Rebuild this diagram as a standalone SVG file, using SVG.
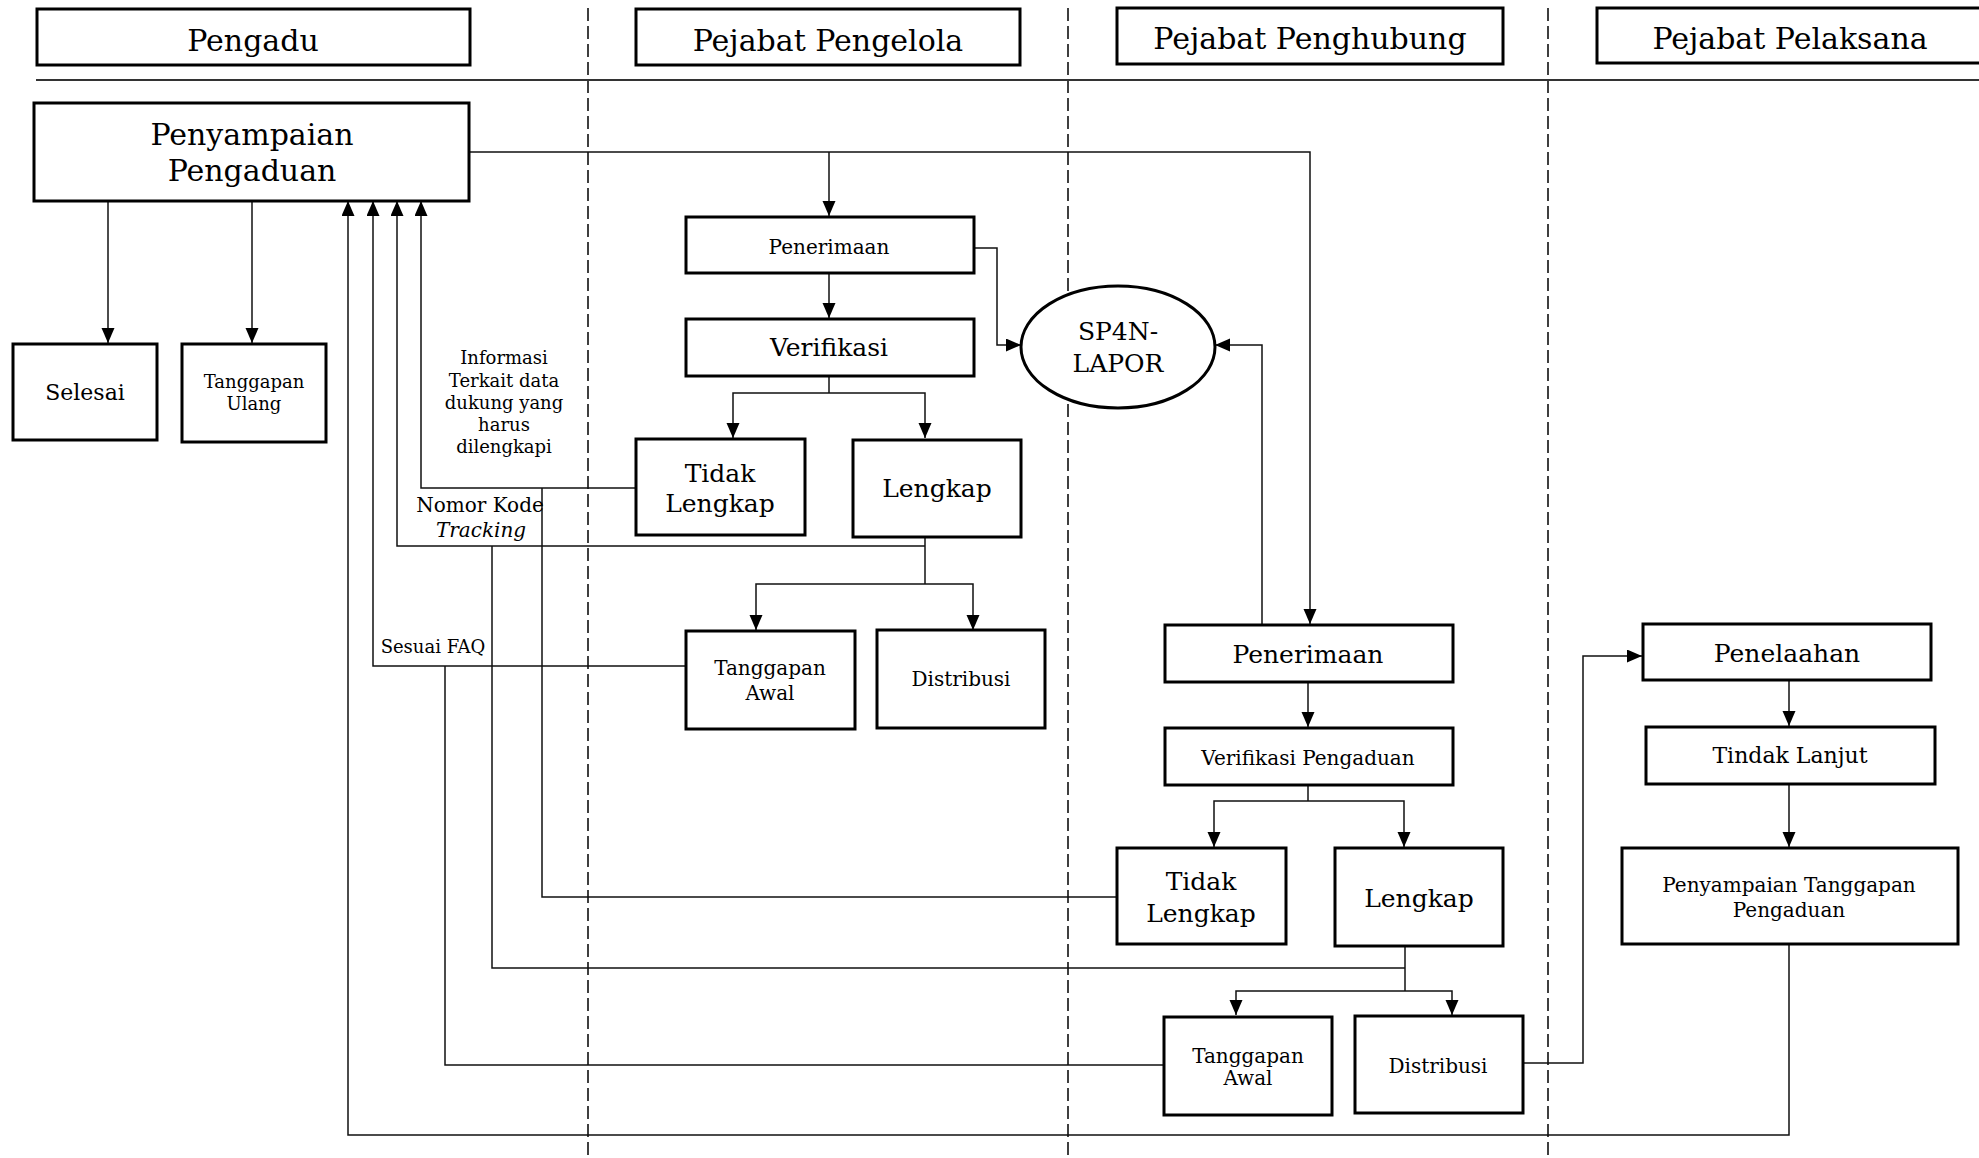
<svg xmlns="http://www.w3.org/2000/svg" width="1979" height="1158" viewBox="0 0 1979 1158">
<style>
  .box { fill: #fff; stroke: #000; stroke-width: 3; }
  .hdr { fill: #fff; stroke: #000; stroke-width: 3; }
  .lane { stroke: #000; stroke-width: 1.5; stroke-dasharray: 13 5; fill: none; }
  .sep { stroke: #333; stroke-width: 2; fill: none; }
  .c { stroke: #111; stroke-width: 1.5; fill: none; }
  .a { marker-end: url(#arr); }
  text { font-family: "DejaVu Serif", "Liberation Serif", serif; fill: #000; text-anchor: middle; }
  .t30 { font-size: 30px; }
  .t25 { font-size: 25px; }
  .t22 { font-size: 22px; }
  .t20 { font-size: 20px; }
  .t18 { font-size: 18px; }
</style>
<defs>
  <marker id="arr" markerUnits="userSpaceOnUse" markerWidth="16" markerHeight="14" refX="15" refY="6.5" orient="auto">
    <path d="M0,0 L15,6.5 L0,13 z" fill="#000"/>
  </marker>
</defs>
<rect width="1979" height="1158" fill="#fff"/>

<g id="lanes">
  <line class="lane" x1="588" y1="8" x2="588" y2="1158"/>
  <line class="lane" x1="1068" y1="8" x2="1068" y2="1158"/>
  <line class="lane" x1="1548" y1="8" x2="1548" y2="1158"/>
  <line class="sep" x1="36" y1="80" x2="1979" y2="80"/>
</g>

<g id="headers">
  <g id="h-pengadu"><rect class="hdr" x="37" y="9" width="433" height="56"/><text class="t30" x="253" y="51">Pengadu</text></g>
  <g id="h-pengelola"><rect class="hdr" x="636" y="9" width="384" height="56"/><text class="t30" x="828" y="51">Pejabat Pengelola</text></g>
  <g id="h-penghubung"><rect class="hdr" x="1117" y="8" width="386" height="56"/><text class="t30" x="1310" y="49">Pejabat Penghubung</text></g>
  <g id="h-pelaksana"><rect class="hdr" x="1597" y="8" width="390" height="55"/><text class="t30" x="1790" y="49">Pejabat Pelaksana</text></g>
</g>

<g id="connectors">
  <polyline class="c a" points="108,201 108,343"/>
  <polyline class="c a" points="252,201 252,343"/>
  <polyline class="c a" points="469,152 1310,152 1310,624"/>
  <polyline class="c a" points="829,152 829,216"/>
  <polyline class="c a" points="829,273 829,318"/>
  <polyline class="c a" points="973,248 997,248 997,345 1021,345"/>
  <polyline class="c" points="829,376 829,393"/>
  <polyline class="c a" points="829,393 733,393 733,438"/>
  <polyline class="c a" points="829,393 925,393 925,438"/>
  <polyline class="c a" points="636,488 421,488 421,201"/>
  <polyline class="c" points="1117,897 542,897 542,488"/>
  <polyline class="c" points="925,538 925,584"/>
  <polyline class="c a" points="925,546 397,546 397,201"/>
  <polyline class="c a" points="925,584 756,584 756,630"/>
  <polyline class="c a" points="925,584 973,584 973,630"/>
  <polyline class="c a" points="686,666 373,666 373,201"/>
  <polyline class="c" points="445,666 445,1065 1164,1065"/>
  <polyline class="c a" points="1262,624 1262,345 1215,345"/>
  <polyline class="c a" points="1308,682 1308,727"/>
  <polyline class="c" points="1308,785 1308,801"/>
  <polyline class="c a" points="1308,801 1214,801 1214,847"/>
  <polyline class="c a" points="1308,801 1404,801 1404,847"/>
  <polyline class="c" points="1405,946 1405,991"/>
  <polyline class="c" points="1405,968 492,968 492,546"/>
  <polyline class="c a" points="1405,991 1236,991 1236,1015"/>
  <polyline class="c a" points="1405,991 1452,991 1452,1015"/>
  <polyline class="c a" points="1523,1063 1583,1063 1583,656 1642,656"/>
  <polyline class="c a" points="1789,680 1789,726"/>
  <polyline class="c a" points="1789,784 1789,847"/>
  <polyline class="c a" points="1789,944 1789,1135 348,1135 348,201"/>
</g>

<g id="labels">
  <text class="t18" x="504" y="364">Informasi</text>
  <text class="t18" x="504" y="387">Terkait data</text>
  <text class="t18" x="504" y="409">dukung yang</text>
  <text class="t18" x="504" y="431">harus</text>
  <text class="t18" x="504" y="453">dilengkapi</text>
  <text class="t20" x="480" y="512">Nomor Kode</text>
  <text class="t20" x="481" y="537" font-style="italic">Tracking</text>
  <text class="t18" x="433" y="653">Sesuai FAQ</text>
</g>

<g id="penyampaian-pengaduan"><rect class="box" x="34" y="103" width="435" height="98"/><text class="t30" x="252" y="145">Penyampaian</text><text class="t30" x="252" y="181">Pengaduan</text></g>
<g id="selesai"><rect class="box" x="13" y="344" width="144" height="96"/><text class="t22" x="85" y="400">Selesai</text></g>
<g id="tanggapan-ulang"><rect class="box" x="182" y="344" width="144" height="98"/><text class="t18" x="254" y="388">Tanggapan</text><text class="t18" x="254" y="410">Ulang</text></g>

<g id="penerimaan-1"><rect class="box" x="686" y="217" width="288" height="56"/><text class="t20" x="829" y="254">Penerimaan</text></g>
<g id="verifikasi-1"><rect class="box" x="686" y="319" width="288" height="57"/><text class="t25" x="829" y="356">Verifikasi</text></g>
<g id="tidak-lengkap-1"><rect class="box" x="636" y="439" width="169" height="96"/><text class="t25" x="720" y="482">Tidak</text><text class="t25" x="720" y="512">Lengkap</text></g>
<g id="lengkap-1"><rect class="box" x="853" y="440" width="168" height="97"/><text class="t25" x="937" y="497">Lengkap</text></g>
<g id="tanggapan-awal-1"><rect class="box" x="686" y="631" width="169" height="98"/><text class="t20" x="770" y="675">Tanggapan</text><text class="t20" x="770" y="700">Awal</text></g>
<g id="distribusi-1"><rect class="box" x="877" y="630" width="168" height="98"/><text class="t20" x="961" y="686">Distribusi</text></g>

<g id="sp4n-lapor"><ellipse cx="1118" cy="347" rx="97" ry="61" fill="#fff" stroke="#000" stroke-width="3"/><text class="t25" x="1118" y="340">SP4N-</text><text class="t25" x="1118" y="372">LAPOR</text></g>

<g id="penerimaan-2"><rect class="box" x="1165" y="625" width="288" height="57"/><text class="t25" x="1308" y="663">Penerimaan</text></g>
<g id="verifikasi-pengaduan"><rect class="box" x="1165" y="728" width="288" height="57"/><text class="t20" x="1308" y="765">Verifikasi Pengaduan</text></g>
<g id="tidak-lengkap-2"><rect class="box" x="1117" y="848" width="169" height="96"/><text class="t25" x="1201" y="890">Tidak</text><text class="t25" x="1201" y="922">Lengkap</text></g>
<g id="lengkap-2"><rect class="box" x="1335" y="848" width="168" height="98"/><text class="t25" x="1419" y="907">Lengkap</text></g>
<g id="tanggapan-awal-2"><rect class="box" x="1164" y="1017" width="168" height="98"/><text class="t20" x="1248" y="1063">Tanggapan</text><text class="t20" x="1248" y="1085">Awal</text></g>
<g id="distribusi-2"><rect class="box" x="1355" y="1016" width="168" height="97"/><text class="t20" x="1438" y="1073">Distribusi</text></g>

<g id="penelaahan"><rect class="box" x="1643" y="624" width="288" height="56"/><text class="t25" x="1787" y="662">Penelaahan</text></g>
<g id="tindak-lanjut"><rect class="box" x="1646" y="727" width="289" height="57"/><text class="t22" x="1790" y="763">Tindak Lanjut</text></g>
<g id="penyampaian-tanggapan"><rect class="box" x="1622" y="848" width="336" height="96"/><text class="t20" x="1789" y="892">Penyampaian Tanggapan</text><text class="t20" x="1789" y="917">Pengaduan</text></g>
</svg>
